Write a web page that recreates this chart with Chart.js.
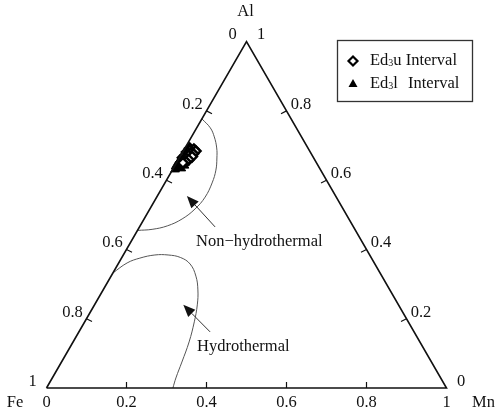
<!DOCTYPE html>
<html>
<head>
<meta charset="utf-8">
<script src="https://cdn.jsdelivr.net/npm/chart.js@4.4.1/dist/chart.umd.min.js"></script>
<style>
  html, body { margin: 0; padding: 0; background: #fff; }
  canvas { display: block; }
</style>
</head>
<body>
<canvas id="ternaryChart" width="498" height="411"></canvas>
<script>
// sample compositions, as fractions (Fe = 1 - Al - Mn)
const ed3uAl = [0.692, 0.689, 0.686, 0.684, 0.681, 0.679, 0.676, 0.673, 0.671, 0.668, 0.665, 0.662, 0.659, 0.656, 0.653, 0.650];
const ed3uMn = [0.012, 0.024, 0.016, 0.031, 0.010, 0.022, 0.029, 0.014, 0.020, 0.030, 0.008, 0.018, 0.026, 0.012, 0.022, 0.016];
const ed3lAl = [0.660, 0.655, 0.651, 0.648, 0.645, 0.642, 0.640, 0.637, 0.634, 0.631];
const ed3lMn = [0.004, 0.014, 0.022, 0.006, 0.016, 0.024, 0.003, 0.012, 0.020, 0.006];

// field boundaries
const nonHydroAl = [0.777, 0.751, 0.725, 0.693, 0.664, 0.629, 0.592, 0.551, 0.517, 0.488, 0.468, 0.458, 0.455];
const nonHydroMn = [0.000, 0.034, 0.057, 0.079, 0.094, 0.109, 0.118, 0.121, 0.113, 0.095, 0.068, 0.035, 0.000];
const hydroAl = [0.332, 0.361, 0.375, 0.384, 0.384, 0.377, 0.358, 0.323, 0.283, 0.240, 0.191, 0.133, 0.075, 0.029, 0.000];
const hydroMn = [0.000, 0.021, 0.046, 0.079, 0.112, 0.146, 0.180, 0.212, 0.237, 0.257, 0.274, 0.290, 0.301, 0.309, 0.316];

const axisTicks = [0.2, 0.4, 0.6, 0.8];

// arrows [Al, Mn]: tail then head
const nonHydroArrow = [[0.465, 0.189], [0.554, 0.074]];
const hydroArrow = [[0.162, 0.328], [0.240, 0.222]];

const FONT = '16.5px "Liberation Serif", "Times New Roman", serif';

function toXY(al, mn) {
  return { x: mn + al / 2, y: al * Math.sqrt(3) / 2 };
}

const ternaryPlugin = {
  id: 'ternaryDecor',
  afterDatasetsDraw(chart) {
    const ctx = chart.ctx;
    const xs = chart.scales.x, ys = chart.scales.y;
    const px = (al, mn) => {
      const p = toXY(al, mn);
      return [xs.getPixelForValue(p.x), ys.getPixelForValue(p.y)];
    };
    ctx.save();

    // ticks
    ctx.strokeStyle = '#111';
    ctx.lineWidth = 1.2;
    axisTicks.forEach(v => {
      let [x, y] = px(0, v);          // bottom: Mn
      ctx.beginPath(); ctx.moveTo(x, y); ctx.lineTo(x, y - 6); ctx.stroke();
      [x, y] = px(1 - v, 0);          // left: Fe
      ctx.beginPath(); ctx.moveTo(x, y); ctx.lineTo(x + 5.5, y + 2.8); ctx.stroke();
      [x, y] = px(v, 1 - v);          // right: Al
      ctx.beginPath(); ctx.moveTo(x, y); ctx.lineTo(x - 5.5, y + 2.8); ctx.stroke();
    });

    // tick labels
    ctx.fillStyle = '#111';
    ctx.font = FONT;
    ctx.textAlign = 'center';
    ctx.textBaseline = 'middle';
    const all = [0, 0.2, 0.4, 0.6, 0.8, 1];
    const fmt = v => (v === 0 ? '0' : v === 1 ? '1' : v.toFixed(1));
    all.forEach(v => {
      let [x, y] = px(0, v);
      ctx.fillText(fmt(v), x, 403);
      [x, y] = px(1 - v, 0);
      ctx.fillText(fmt(v), x - 14, y - 6.5);
      [x, y] = px(v, 1 - v);
      ctx.fillText(fmt(v), x + 14.5, y - 6.5);
    });

    // vertex names
    ctx.fillText('Fe', 15, 403);
    const [ax] = px(1, 0);
    ctx.fillText('Al', ax - 1, 12);
    ctx.textAlign = 'right';
    ctx.fillText('Mn', 495, 403);

    // arrows
    ctx.strokeStyle = '#333';
    ctx.fillStyle = '#111';
    ctx.lineWidth = 1;
    [nonHydroArrow, hydroArrow].forEach(a => {
      const [x0, y0] = px(a[0][0], a[0][1]);
      const [x1, y1] = px(a[1][0], a[1][1]);
      const ang = Math.atan2(y1 - y0, x1 - x0);
      const len = 12, hw = 5;
      const bx = x1 - len * Math.cos(ang), by = y1 - len * Math.sin(ang);
      ctx.beginPath(); ctx.moveTo(x0, y0); ctx.lineTo(bx, by); ctx.stroke();
      ctx.beginPath();
      ctx.moveTo(x1, y1);
      ctx.lineTo(bx + hw * Math.sin(ang), by - hw * Math.cos(ang));
      ctx.lineTo(bx - hw * Math.sin(ang), by + hw * Math.cos(ang));
      ctx.closePath(); ctx.fill();
    });

    // field names
    ctx.fillStyle = '#111';
    ctx.textAlign = 'left';
    ctx.fillText('Non\u2212hydrothermal', 196, 242);
    ctx.fillText('Hydrothermal', 197, 347);

    // legend
    ctx.strokeStyle = '#333';
    ctx.lineWidth = 1.3;
    ctx.strokeRect(337.5, 40.5, 135, 61);
    ctx.fillStyle = '#fff';
    ctx.strokeStyle = '#000';
    ctx.lineWidth = 2.2;
    ctx.beginPath();
    ctx.moveTo(353, 56.5); ctx.lineTo(357.5, 61); ctx.lineTo(353, 65.5); ctx.lineTo(348.5, 61);
    ctx.closePath(); ctx.fill(); ctx.stroke();
    ctx.fillStyle = '#000';
    ctx.beginPath();
    ctx.moveTo(353, 79); ctx.lineTo(357.5, 87); ctx.lineTo(348.5, 87);
    ctx.closePath(); ctx.fill();

    const sub = (label, tail, x, y, gap) => {
      ctx.font = FONT;
      ctx.fillText(label, x, y);
      let w = ctx.measureText(label).width;
      ctx.font = '10px "Liberation Serif", serif';
      ctx.fillText('3', x + w, y + 2);
      w += ctx.measureText('3').width;
      ctx.font = FONT;
      ctx.fillText(tail, x + w + gap, y);
    };
    ctx.fillStyle = '#111';
    sub('Ed', 'u Interval', 370, 61, 0);
    sub('Ed', 'l', 370, 84, 0);
    ctx.fillText('Interval', 408, 84);

    ctx.restore();
  }
};

const frame = [toXY(0, 0), toXY(0, 1), toXY(1, 0), toXY(0, 0)];

new Chart(document.getElementById('ternaryChart'), {
  type: 'scatter',
  data: {
    datasets: [
      {
        label: 'Frame',
        data: frame,
        showLine: true,
        borderColor: '#111',
        borderWidth: 1.6,
        pointRadius: 0,
        clip: false
      },
      {
        label: 'Non-hydrothermal',
        data: nonHydroAl.map((a, i) => toXY(a, nonHydroMn[i])),
        showLine: true,
        borderColor: '#555',
        borderWidth: 1,
        tension: 0.4,
        pointRadius: 0,
        clip: false
      },
      {
        label: 'Hydrothermal',
        data: hydroAl.map((a, i) => toXY(a, hydroMn[i])),
        showLine: true,
        borderColor: '#555',
        borderWidth: 1,
        tension: 0.4,
        pointRadius: 0,
        clip: false
      },
      {
        label: 'Ed3u Interval',
        data: ed3uAl.map((a, i) => toXY(a, ed3uMn[i])),
        pointStyle: 'rectRot',
        pointRadius: 4.8,
        backgroundColor: '#fff',
        borderColor: '#000',
        borderWidth: 2.5,
        clip: false
      },
      {
        label: 'Ed3l Interval',
        data: ed3lAl.map((a, i) => toXY(a, ed3lMn[i])),
        pointStyle: 'triangle',
        pointRadius: 5,
        backgroundColor: '#000',
        borderColor: '#000',
        borderWidth: 1,
        clip: false
      }
    ]
  },
  options: {
    responsive: false,
    animation: false,
    devicePixelRatio: 1,
    layout: { padding: { left: 46.5, right: 51.5, top: 41.6, bottom: 23 } },
    scales: {
      x: { type: 'linear', min: 0, max: 1, display: false },
      y: { type: 'linear', min: 0, max: Math.sqrt(3) / 2, display: false }
    },
    plugins: {
      legend: { display: false },
      tooltip: { enabled: false }
    }
  },
  plugins: [ternaryPlugin]
});
</script>
</body>
</html>
